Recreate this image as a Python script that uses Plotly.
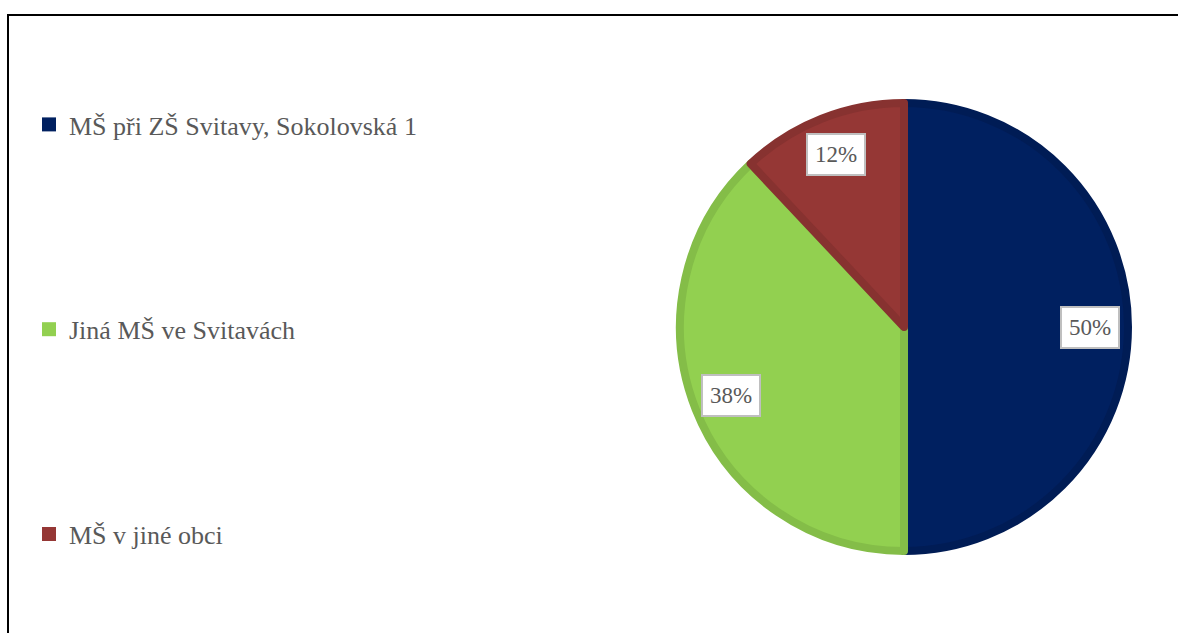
import math
import plotly.graph_objects as go

labels = ["MŠ při ZŠ Svitavy, Sokolovská 1", "Jiná MŠ ve Svitavách", "MŠ v jiné obci"]
values = [50, 38, 12]
colors = ["#002060", "#92D050", "#953735"]
edge_colors = ["#001c55", "#84bd48", "#873230"]

W, H = 1178, 633
cx, cy, r = 904, 327, 224  # pie centre / radius in px

fig = go.Figure()

fig.add_trace(go.Pie(
    labels=labels,
    values=values,
    sort=False,
    direction="clockwise",
    rotation=0,
    textinfo="none",
    hoverinfo="label+percent",
    showlegend=False,
    marker=dict(colors=colors, line=dict(color=edge_colors, width=8)),
    domain=dict(x=[(cx - r) / W, (cx + r) / W], y=[1 - (cy + r) / H, 1 - (cy - r) / H]),
))

# legend entries (separate groups so they can be spread out vertically)
for i, (lab, col) in enumerate(zip(labels, colors)):
    fig.add_trace(go.Scatter(
        x=[None], y=[None], mode="markers", name=lab,
        legendgroup=str(i),
        marker=dict(symbol="square", size=14, color=col),
    ))

# percentage labels in white boxes, placed at the slice mid-angles
total = sum(values)
start = 0.0
for v in values:
    mid = start + v / total * 180.0
    start += v / total * 360.0
    a = math.radians(mid)
    lr = 0.815 * (r + 4)
    fig.add_annotation(
        x=(cx + lr * math.sin(a)) / W,
        y=1 - (cy - lr * math.cos(a)) / H,
        xref="paper", yref="paper",
        xanchor="center", yanchor="middle",
        text=f"{round(v / total * 100)}%",
        showarrow=False,
        font=dict(family="Liberation Serif", size=23, color="#595959"),
        bgcolor="white", bordercolor="#bfbfbf", borderwidth=2, borderpad=7,
    )

# chart frame
fig.add_shape(type="rect", xref="paper", yref="paper",
              x0=8 / W, x1=1.02, y0=-0.05, y1=1 - 15 / H,
              line=dict(color="black", width=2))

fig.update_layout(
    width=W, height=H,
    margin=dict(l=0, r=0, t=0, b=0),
    paper_bgcolor="white",
    plot_bgcolor="white",
    xaxis=dict(visible=False),
    yaxis=dict(visible=False),
    font=dict(family="Liberation Serif", color="#595959"),
    legend=dict(
        x=29 / W, y=1 - 101 / H, xanchor="left", yanchor="top",
        font=dict(family="Liberation Serif", size=26, color="#595959"),
        tracegroupgap=168,
        bgcolor="rgba(0,0,0,0)",
    ),
)

fig.write_html("out.html", config={"displayModeBar": False},
               post_script="document.body.style.margin='0';")
